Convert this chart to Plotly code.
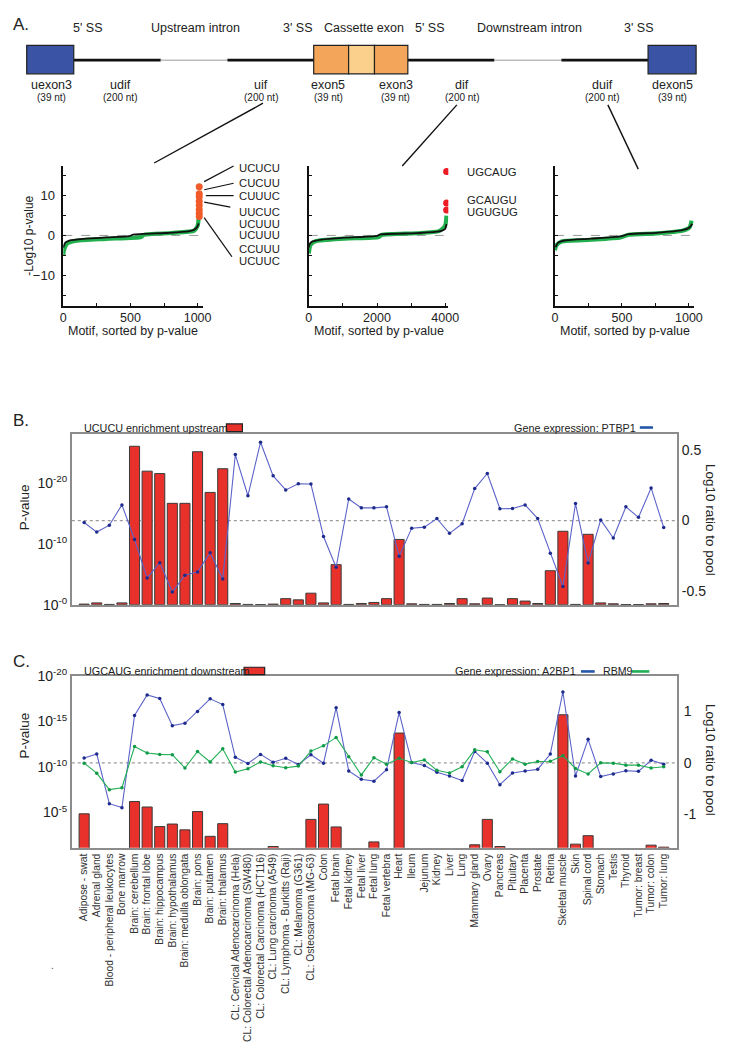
import plotly.graph_objects as go

# The page adds an 8 px body margin, so the figure is sized to fit inside the
# 736x1050 window and every reference pixel position is shifted by that margin.
PAGE_W, PAGE_H, OFF = 736, 1050, 8
W, H = PAGE_W - 2 * OFF, PAGE_H - 2 * OFF
def fx(p): return (p - OFF) / W
def fy(p): return 1 - (p - OFF) / H

FONT = "Liberation Sans, Arial, sans-serif"
TXT = "#222222"

# ---------------- data ----------------
tissues = [
    "Adipose - swat", "Adrenal gland", "Blood - peripheral leukocytes", "Bone marrow",
    "Brain: cerebellum", "Brain: frontal lobe", "Brain: hippocampus", "Brain: hypothalamus",
    "Brain: medulla oblongata", "Brain: pons", "Brain: putamen", "Brain: thalamus",
    "CL: Cervical Adenocarcinoma (Hela)", "CL: Colorectal Adenocarcinoma (SW480)",
    "CL: Colorectal Carcinoma (HCT116)", "CL: Lung carcinoma (A549)",
    "CL: Lymphoma - Burkitts (Raji)", "CL: Melanoma (G361)", "CL: Osteosarcoma (MG-63)",
    "Colon", "Fetal brain", "Fetal kidney", "Fetal liver", "Fetal lung", "Fetal vertebra",
    "Heart", "Ileum", "Jejunum", "Kidney", "Liver", "Lung", "Mammary gland", "Ovary",
    "Pancreas", "Pituitary", "Placenta", "Prostate", "Retina", "Skeletal muscle", "Skin",
    "Spinal cord", "Stomach", "Testis", "Thyroid", "Tumor: breast", "Tumor: colon", "Tumor: lung",
]

# Panel B: UCUCU enrichment upstream, -log10(p)
b_ucucu_nlog10p = [
    0.1, 0.3, 0.05, 0.3, 26.1, 22.0, 21.6, 16.7, 16.7, 25.2, 18.5, 22.4,
    0.2, 0.05, 0.03, 0.1, 1.0, 0.8, 1.9, 0.3, 6.6, 0.05, 0.2, 0.37, 1.0,
    10.75, 0.15, 0.05, 0.05, 0.2, 1.0, 0.15, 1.1, 0.0, 1.0, 0.6, 0.2,
    5.6, 12.1, 0.05, 11.6, 0.3, 0.15, 0.03, 0.03, 0.15, 0.2,
]
# Panel B: PTBP1 expression, log10 ratio to pool
b_ptbp1 = [
    -0.014, -0.082, -0.033, 0.112, -0.135, -0.41, -0.30, -0.51, -0.39, -0.366, -0.23, -0.417,
    0.471, 0.177, 0.559, 0.319, 0.219, 0.263, 0.261, -0.114, -0.333, 0.154, 0.091, 0.091, 0.098,
    -0.254, -0.054, -0.047, 0.014, -0.091, -0.023, 0.228, 0.336, 0.084, 0.086, 0.112, 0.014,
    -0.233, -0.471, 0.121, -0.303, 0.005, -0.124, 0.098, 0.023, 0.233, -0.049,
]

# Panel C: UGCAUG enrichment downstream, -log10(p)
c_ugcaug_nlog10p = [
    4.86, 0, 0, 0, 6.21, 5.61, 3.46, 3.74, 3.10, 5.11, 2.39, 3.78,
    0, 0, 0, 1.27, 0, 0, 4.25, 5.93, 3.42, 0, 0, 1.78, 0,
    13.73, 0, 0, 0, 0, 0, 1.46, 4.25, 1.27, 0, 0, 0,
    0, 15.74, 1.53, 2.46, 0, 0, 0, 0, 1.42, 1.2,
]
c_a2bp1 = [
    0.095, 0.171, -0.79, -0.867, 0.917, 1.316, 1.246, 0.721, 0.765, 0.993, 1.24, 1.13,
    0.108, -0.013, 0.164, 0.013, 0.089, -0.032, 0.158, -0.006, 1.069, -0.158, -0.316, -0.354, -0.133,
    0.974, 0.006, -0.05, -0.183, -0.253, -0.342, 0.221, -0.006, -0.424, -0.196, -0.158, -0.126,
    0.171, 1.373, -0.253, 0.455, -0.266, -0.215, -0.152, -0.164, 0.051, -0.025,
]
c_rbm9 = [
    -0.006, -0.2, -0.519, -0.481, 0.316, 0.19, 0.164, 0.158, -0.1, 0.221, 0.019, 0.272,
    -0.177, -0.114, 0.019, -0.057, -0.095, -0.063, 0.228, 0.329, 0.493, 0.12, -0.234, 0.101, -0.025,
    0.089, 0.006, 0.057, -0.145, -0.196, -0.076, 0.253, 0.215, -0.171, 0.076, -0.025, 0.025,
    0.032, 0.139, -0.108, -0.215, 0.0, -0.006, -0.044, -0.044, -0.1, -0.076,
]

# Panel A: sorted motif scores (-log10 p), read at selected ranks
a1_black_x = [0, 15, 50, 150, 320, 490, 520, 760, 930, 975, 995, 1008]
a1_black_y = [-3.0, -1.8, -1.25, -0.85, -0.5, -0.2, 0.2, 0.6, 1.0, 1.45, 2.0, 3.0]
a1_green_x = [0, 5, 30, 100, 320, 580, 600, 805, 975, 1000, 1008]
a1_green_y = [-4.9, -3.7, -2.0, -1.3, -0.85, -0.4, 0.15, 0.6, 1.2, 2.4, 4.4]
a1_top_x = [1012, 1012, 1012, 1012, 1012, 1012, 1012, 1012]
a1_top_y = [12.1, 10.4, 9.6, 8.5, 7.5, 6.4, 5.5, 4.7]
a1_top_motifs = ["UCUCU", "CUCUU", "CUUUC", "UUCUC", "UCUUU", "UCUUU", "CCUUU", "UCUUC"]

a2_black_x = [0, 10, 86, 373, 1044, 2000, 2100, 3150, 3820, 3995, 4035]
a2_black_y = [-3.0, -2.4, -1.6, -1.06, -0.57, -0.1, 0.24, 0.57, 0.98, 1.6, 2.85]
a2_green_x = [0, 48, 192, 1044, 2050, 2146, 3150, 3820, 3995, 4035]
a2_green_y = [-4.5, -2.4, -1.46, -0.8, -0.4, 0.16, 0.55, 1.06, 2.4, 4.9]
a2_top_x = [4040, 4040, 4040]
a2_top_y = [15.9, 8.1, 6.3]
a2_top_motifs = ["UGCAUG", "GCAUGU", "UGUGUG"]

a3_black_x = [5, 24, 85, 268, 488, 549, 756, 951, 1007, 1025]
a3_black_y = [-2.9, -1.8, -1.2, -0.8, -0.25, 0.33, 0.65, 1.3, 2.05, 2.9]
a3_green_x = [0, 10, 50, 270, 490, 550, 760, 950, 1005, 1020]
a3_green_y = [-3.7, -2.5, -1.5, -1.07, -0.5, 0.16, 0.5, 1.15, 2.0, 3.7]

# ---------------- styles ----------------
RED = "#E8312A"
BAR_LINE = "#3a3a3a"
BLUE_LINE = "#5C63C9"
BLUE_MARK = "#1C2A8C"
GREEN_LINE = "#22AF55"
GREEN_MARK = "#109A48"
A_GREEN = "#22B04E"

fig = go.Figure()

# ---- Panel A traces ----
def add_curve(xs, ys, xa, ya, color, width):
    fig.add_trace(go.Scatter(x=xs, y=ys, mode="lines", xaxis=xa, yaxis=ya,
                             line=dict(color=color, width=width, shape="spline", smoothing=0.6),
                             showlegend=False, hoverinfo="skip"))

add_curve(a1_green_x, a1_green_y, "x", "y", A_GREEN, 4.2)
add_curve(a1_black_x, a1_black_y, "x", "y", "#111111", 1.8)
fig.add_trace(go.Scatter(x=a1_top_x, y=a1_top_y, mode="markers", xaxis="x", yaxis="y",
                         marker=dict(color="#F15A29", size=7), showlegend=False))
add_curve(a2_green_x, a2_green_y, "x2", "y2", A_GREEN, 4.2)
add_curve(a2_black_x, a2_black_y, "x2", "y2", "#111111", 1.8)
fig.add_trace(go.Scatter(x=a2_top_x, y=a2_top_y, mode="markers", xaxis="x2", yaxis="y2",
                         marker=dict(color="#ED1C24", size=7), showlegend=False))
add_curve(a3_green_x, a3_green_y, "x3", "y3", A_GREEN, 4.2)
add_curve(a3_black_x, a3_black_y, "x3", "y3", "#111111", 1.8)

# ---- Panel B traces ----
fig.add_trace(go.Bar(x=tissues, y=b_ucucu_nlog10p, xaxis="x4", yaxis="y4", width=0.8,
                     marker=dict(color=RED, line=dict(color=BAR_LINE, width=1)),
                     showlegend=False))
fig.add_trace(go.Scatter(x=tissues, y=b_ptbp1, xaxis="x4", yaxis="y5", mode="lines+markers",
                         line=dict(color=BLUE_LINE, width=1.1),
                         marker=dict(color=BLUE_MARK, size=3.5), showlegend=False))

# ---- Panel C traces ----
fig.add_trace(go.Bar(x=tissues, y=c_ugcaug_nlog10p, xaxis="x5", yaxis="y6", width=0.8,
                     marker=dict(color=RED, line=dict(color=BAR_LINE, width=1)),
                     showlegend=False))
fig.add_trace(go.Scatter(x=tissues, y=c_a2bp1, xaxis="x5", yaxis="y7", mode="lines+markers",
                         line=dict(color=BLUE_LINE, width=1.1),
                         marker=dict(color=BLUE_MARK, size=3.5), showlegend=False))
fig.add_trace(go.Scatter(x=tissues, y=c_rbm9, xaxis="x5", yaxis="y7", mode="lines+markers",
                         line=dict(color=GREEN_LINE, width=1.1),
                         marker=dict(color=GREEN_MARK, size=3.5), showlegend=False))

# ---------------- axes ----------------
def a_xaxis(x0, x1, anchor, rng, major, minor):
    return dict(domain=[fx(x0), fx(x1)], anchor=anchor, range=rng, showline=True,
                linecolor="#111111", linewidth=1.5, ticks="inside", ticklen=3,
                tickcolor="#111111", tickmode="linear", tick0=0, dtick=major,
                minor=dict(ticks="inside", ticklen=3, tickcolor="#111111", dtick=minor,
                           tick0=0, showgrid=False),
                showgrid=False, zeroline=False,
                tickfont=dict(size=12.5, color=TXT), ticklabelstandoff=0)

def a_yaxis(anchor, labels):
    return dict(domain=[fy(301.7), fy(159)], anchor=anchor, range=[-17.5, 17.3], showline=True,
                linecolor="#111111", linewidth=1.5, ticks="inside", ticklen=3,
                tickcolor="#111111", tickmode="linear", tick0=0, dtick=10,
                minor=dict(ticks="inside", ticklen=3, tickcolor="#111111", dtick=5,
                           tick0=0, showgrid=False),
                showticklabels=labels,
                showgrid=False, zeroline=False, tickfont=dict(size=13, color=TXT),
                ticklabelstandoff=4)

cat_range = [-0.98, 47.04]
frame = "#8c8c8c"

fig.update_layout(
    width=W, height=H, margin=dict(l=0, r=0, t=0, b=0),
    paper_bgcolor="white", plot_bgcolor="rgba(0,0,0,0)",
    font=dict(family=FONT, color=TXT), showlegend=False, bargap=0.2,
    xaxis=a_xaxis(61.3, 203.8, "y", [0, 1040], 500, 250),
    yaxis=a_yaxis("x", True),
    xaxis2=a_xaxis(311.7, 454, "y2", [0, 4090], 2000, 1000),
    yaxis2=a_yaxis("x2", False),
    xaxis3=a_xaxis(562.7, 704.8, "y3", [0, 1040], 500, 250),
    yaxis3=a_yaxis("x3", False),
    xaxis4=dict(domain=[fx(70), fx(687)], anchor="y4", type="category", categoryarray=tissues,
                categoryorder="array", range=cat_range, showticklabels=False, ticks="",
                showline=True, mirror=True, linecolor=frame, linewidth=1.5, showgrid=False),
    yaxis4=dict(domain=[fy(607), fy(433)], anchor="x4", range=[-0.02, 28.06],
                tickvals=[0, 10, 20],
                ticktext=["10<sup>-0</sup>", "10<sup>-10</sup>", "10<sup>-20</sup>"],
                showline=True, mirror=True, linecolor=frame, linewidth=1.5, ticks="",
                showgrid=False, zeroline=False, tickfont=dict(size=14, color=TXT)),
    yaxis5=dict(overlaying="y4", side="right", anchor="x4", range=[-0.601, 0.615],
                tickvals=[-0.5, 0, 0.5], ticktext=["-0.5", "0", "0.5"], ticks="",
                showgrid=False, zeroline=False, showline=False,
                tickfont=dict(size=14, color=TXT), ticklabelstandoff=4),
    xaxis5=dict(domain=[fx(70), fx(687)], anchor="y6", type="category", categoryarray=tissues,
                categoryorder="array", range=cat_range, tickangle=-90, ticks="",
                tickfont=dict(size=10.3, color="#333333"), showline=True, mirror=True,
                linecolor=frame, linewidth=1.5, showgrid=False),
    yaxis6=dict(domain=[fy(855), fy(679.5)], anchor="x5", range=[1.13, 20.01],
                tickvals=[5, 10, 15, 20],
                ticktext=["10<sup>-5</sup>", "10<sup>-10</sup>", "10<sup>-15</sup>", "10<sup>-20</sup>"],
                showline=True, mirror=True, linecolor=frame, linewidth=1.5, ticks="",
                showgrid=False, zeroline=False, tickfont=dict(size=14, color=TXT)),
    yaxis7=dict(overlaying="y6", side="right", anchor="x5", range=[-1.645, 1.685],
                tickvals=[-1, 0, 1], ticktext=["-1", "0", "1"], ticks="",
                showgrid=False, zeroline=False, showline=False,
                tickfont=dict(size=14, color=TXT), ticklabelstandoff=6),
)

# ---------------- shapes ----------------
shapes = []
def pline(x0, y0, x1, y1, color="#111111", width=1.5, dash=None):
    ln = dict(color=color, width=width)
    if dash:
        ln["dash"] = dash
    shapes.append(dict(type="line", xref="paper", yref="paper",
                       x0=fx(x0), y0=fy(y0), x1=fx(x1), y1=fy(y1), line=ln))

def prect(x0, y0, x1, y1, fill, lc="#222222", lw=1.2):
    shapes.append(dict(type="rect", xref="paper", yref="paper",
                       x0=fx(x0), y0=fy(y0), x1=fx(x1), y1=fy(y1),
                       fillcolor=fill, line=dict(color=lc, width=lw)))

# gene model
LY = 51
pline(72, LY, 160.7, LY, "#111111", 2.6)
pline(160.7, LY, 228.7, LY, "#bbbbbb", 1.5)
pline(228.7, LY, 317, LY, "#111111", 2.6)
pline(412.7, LY, 501, LY, "#111111", 2.6)
pline(501, LY, 569.3, LY, "#bbbbbb", 1.5)
pline(569.3, LY, 657.7, LY, "#111111", 2.6)
prect(24, 36, 72, 65, "#3A53A4")
prect(657.7, 36, 706.7, 65, "#3A53A4")
prect(316.7, 36, 352.3, 65, "#F3A55A")
prect(352.3, 36, 378.7, 65, "#FAD08C")
prect(378.7, 36, 412.7, 65, "#F3A55A")

# connector lines
pline(265, 95, 154, 156, "#111111", 1.4)
pline(462.7, 96.7, 407, 159, "#111111", 1.4)
pline(616.7, 96.7, 647.7, 162.3, "#111111", 1.4)

# leader lines for top motifs
pline(205, 175, 235, 159, "#111111", 1.2)
pline(205, 183.3, 235, 176.7, "#111111", 1.2)
pline(206.7, 189.3, 235, 189.3, "#111111", 1.2)
pline(205, 196, 231.7, 201, "#111111", 1.2)
pline(205, 211.7, 233.3, 251.7, "#111111", 1.2)

# dashed zero lines in panel A
for xr, yr in (("x domain", "y"), ("x2 domain", "y2"), ("x3 domain", "y3")):
    shapes.append(dict(type="line", xref=xr, yref=yr, x0=0, x1=0.985, y0=0, y1=0,
                       line=dict(color="#9a9a9a", width=1, dash="dash"), layer="below"))

# dotted zero lines in B & C
shapes.append(dict(type="line", xref="x4 domain", yref="y5", x0=0, x1=1, y0=0, y1=0,
                   line=dict(color="#9a9a9a", width=1.3, dash="dot"), layer="below"))
shapes.append(dict(type="line", xref="x5 domain", yref="y7", x0=0, x1=1, y0=0, y1=0,
                   line=dict(color="#9a9a9a", width=1.3, dash="dot"), layer="below"))

# legend swatches
prect(227.7, 422.3, 244, 430.3, RED, "#222222", 1.2)
pline(649.3, 426, 662.7, 426, "#2457A7", 2.6)
prect(245.7, 670.7, 266.7, 678.3, RED, "#222222", 1.2)
pline(589.3, 675, 603.3, 675, "#2457A7", 2.6)
pline(641, 675, 659, 675, "#1FAF55", 2.6)

fig.update_layout(shapes=shapes)

# ---------------- annotations ----------------
anns = []
def ann(text, x, y, size, xanchor="center", yanchor="middle", angle=0, color=TXT):
    anns.append(dict(text=text, x=fx(x), y=fy(y), xref="paper", yref="paper",
                     xanchor=xanchor, yanchor=yanchor, showarrow=False, textangle=angle,
                     font=dict(size=size, color=color, family=FONT)))

ann("A.", 8, 15, 17, xanchor="left")
ann("B.", 8, 419, 17, xanchor="left")
ann("C.", 8, 665, 17, xanchor="left")

hdr = [("5' SS", 87), ("Upstream intron", 196), ("3' SS", 301), ("Cassette exon", 368),
       ("5' SS", 435), ("Downstream intron", 536.5), ("3' SS", 648.5)]
for t, x in hdr:
    ann(t, x, 18.3, 12.5)

feat = [("uexon3", "(39 nt)", 49.5), ("udif", "(200 nt)", 119.6), ("uif", "(200 nt)", 262.8),
        ("exon5", "(39 nt)", 331.5), ("exon3", "(39 nt)", 400.4), ("dif", "(200 nt)", 467.8),
        ("duif", "(200 nt)", 610.8), ("dexon5", "(39 nt)", 682.7)]
for name, ln, x in feat:
    ann(name, x, 76.7, 12.5)
    ann(ln, x, 88.8, 10)

ann("-Log10 p-value", 26.7, 230, 12, angle=-90)
for xc in (132.5, 382.8, 633.7):
    ann("Motif, sorted by p-value", xc, 327.5, 12.5)

ys1 = [161, 176.7, 190, 206, 218.3, 230, 243.3, 255.7]
for t, y in zip(a1_top_motifs, ys1):
    ann(t, 238.3, y, 11.3, xanchor="left")
for t, y in zip(a2_top_motifs, [165, 193.3, 206]):
    ann(t, 471, y, 11.3, xanchor="left")

ann("UCUCU enrichment upstream", 80.7, 426, 10.8, xanchor="left")
ann("Gene expression: PTBP1", 647.7, 426, 10.8, xanchor="right")
ann("P-value", 21.7, 507, 13.5, angle=-90)
ann("Log10 ratio to pool", 721.5, 520, 13.5, angle=90)

ann("UGCAUG enrichment downstream", 80.7, 674.3, 10.8, xanchor="left")
ann("Gene expression: A2BP1", 586.5, 675, 10.8, xanchor="right")
ann("RBM9", 609.5, 675, 10.6, xanchor="left")
ann("P-value", 21.7, 740, 13.5, angle=-90)
ann("Log10 ratio to pool", 721.5, 765, 13.5, angle=90)

ann(".", 50, 975, 10, color="#555555")

fig.update_layout(annotations=anns)

fig.write_html("out.html")
